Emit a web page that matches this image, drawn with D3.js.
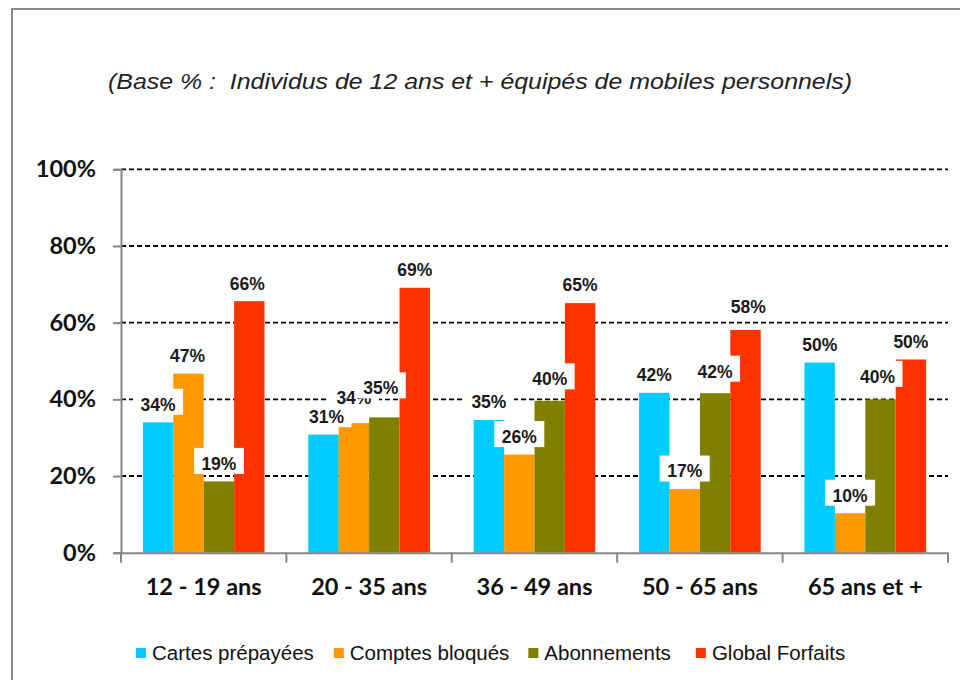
<!DOCTYPE html>
<html>
<head>
<meta charset="utf-8">
<script src="https://cdn.jsdelivr.net/npm/d3@7"></script>
<style>
	body { margin: 0; background: #fff; }
	svg { display: block; }
</style>
</head>
<body>
<svg id="chart" width="960" height="680"></svg>
<script>
const TITLE = "(Base % :  Individus de 12 ans et + équipés de mobiles personnels)";
const CATEGORIES = ["12 - 19 ans", "20 - 35 ans", "36 - 49 ans", "50 - 65 ans", "65 ans et +"];
const SERIES = ["Cartes prépayées", "Comptes bloqués", "Abonnements", "Global Forfaits"];
const CARTES = [34.0, 30.8, 34.6, 41.7, 49.6];
const COMPTES = [46.7, 33.8, 25.6, 16.6, 10.3];
const ABONNEMENTS = [18.6, 35.3, 39.6, 41.6, 40.0];
const FORFAITS = [65.6, 69.1, 65.1, 58.1, 50.4];
const Y_TICKS = [0, 20, 40, 60, 80, 100];

const BAR_COLORS = ["#00CCFF", "#FF9900", "#808000", "#FF3300"];
const AXIS_COLOR = "#868686";
const PLOT = { left: 121, right: 948, top: 169.3, bottom: 552.7 };

// hand placed label offsets (dx, dy) per series / group, like in the original sheet
const LABEL_NUDGE = [
	[[0, 0], [3, 0], [0, 0], [0, 0], [0, 0]],
	[[-1, 0], [0, -7], [0, 0], [0, 0], [0, 0]],
	[[0, 0], [-3.5, -11.5], [0, -4], [0, -4], [-3, -5]],
	[[-2, 0], [0, 0], [0, 0], [2.7, -5.7], [0, 0]]
];

const svg = d3.select("#chart");
const values = [CARTES, COMPTES, ABONNEMENTS, FORFAITS];

const x0 = d3.scaleBand()
	.domain(CATEGORIES)
	.range([PLOT.left, PLOT.right]);

const x1 = d3.scaleBand()
	.domain(SERIES)
	.range([0, x0.bandwidth()])
	.paddingOuter(0.72);

const y = d3.scaleLinear()
	.domain([0, 100])
	.range([PLOT.bottom, PLOT.top]);

// frame around the whole chart
svg.append("rect")
	.attr("x", 12)
	.attr("y", 9)
	.attr("width", 980)
	.attr("height", 700)
	.attr("fill", "none")
	.attr("stroke", "#8a8a8a")
	.attr("stroke-width", 2);

svg.append("text")
	.attr("x", 108)
	.attr("y", 89)
	.attr("textLength", 744)
	.attr("lengthAdjust", "spacingAndGlyphs")
	.style("white-space", "pre")
	.attr("font-family", "'Liberation Sans', Arial, sans-serif")
	.attr("font-style", "italic")
	.attr("font-size", 22)
	.attr("fill", "#222")
	.text(TITLE);

// gridlines
svg.append("g")
	.selectAll("line")
	.data(Y_TICKS.filter((t) => t > 0))
	.enter().append("line")
	.attr("x1", PLOT.left)
	.attr("x2", PLOT.right)
	.attr("y1", (d) => y(d))
	.attr("y2", (d) => y(d))
	.attr("stroke", "#000")
	.attr("stroke-width", 1.8)
	.attr("stroke-dasharray", "5,3");

// bars
const groups = svg.append("g")
	.selectAll("g")
	.data(CATEGORIES)
	.enter().append("g")
	.attr("transform", (d) => "translate(" + x0(d) + ",0)");

groups.selectAll("rect")
	.data((d, gi) => SERIES.map((s, si) => ({ series: s, si: si, value: values[si][gi] })))
	.enter().append("rect")
	.attr("x", (d) => x1(d.series))
	.attr("y", (d) => y(d.value))
	.attr("width", x1.bandwidth())
	.attr("height", (d) => y(0) - y(d.value))
	.attr("fill", (d) => BAR_COLORS[d.si]);

// axes
const yAxis = svg.append("g")
	.attr("transform", "translate(" + PLOT.left + ",0)")
	.call(d3.axisLeft(y).tickValues(Y_TICKS).tickSize(8).tickPadding(17).tickFormat((d) => d + "%"));

const xAxis = svg.append("g")
	.attr("transform", "translate(0," + PLOT.bottom + ")")
	.call(d3.axisBottom(x0).tickSize(0).tickPadding(26));

[yAxis, xAxis].forEach((a) => {
	a.select(".domain").attr("stroke", AXIS_COLOR).attr("stroke-width", 2);
	a.selectAll(".tick line").attr("stroke", AXIS_COLOR).attr("stroke-width", 2);
	a.selectAll("text")
		.attr("font-family", "Lato, 'Open Sans', sans-serif")
		.attr("font-weight", "bold")
		.attr("font-size", 23.5)
		.attr("fill", "#111");
});

// category separators on the x axis
xAxis.append("g")
	.selectAll("line")
	.data(CATEGORIES.map((c) => x0(c)).concat([PLOT.right]))
	.enter().append("line")
	.attr("x1", (d) => d)
	.attr("x2", (d) => d)
	.attr("y1", 0)
	.attr("y2", 10)
	.attr("stroke", AXIS_COLOR)
	.attr("stroke-width", 2);

// data labels, drawn series after series with a white box like Excel does
SERIES.forEach((s, si) => {
	const labels = svg.append("g")
		.selectAll("g")
		.data(values[si])
		.enter().append("g")
		.attr("transform", (d, gi) => {
			const cx = x0(CATEGORIES[gi]) + x1(s) + x1.bandwidth() / 2 + LABEL_NUDGE[si][gi][0];
			const cy = y(d) - 18 + LABEL_NUDGE[si][gi][1];
			return "translate(" + cx + "," + cy + ")";
		});

	labels.append("rect")
		.attr("x", -25)
		.attr("y", -15.5)
		.attr("width", 50)
		.attr("height", 26)
		.attr("fill", "#fff");

	labels.append("text")
		.attr("text-anchor", "middle")
		.attr("dy", "0.36em")
		.attr("font-family", "'Liberation Sans', Arial, sans-serif")
		.attr("font-weight", "bold")
		.attr("font-size", 17.5)
		.attr("fill", "#1a1a1a")
		.text((d) => Math.round(d) + "%");
});

// legend
const legend = svg.append("g")
	.attr("transform", "translate(136,653)");

const LEGEND_GAPS = [20, 19, 25];
let lx = 0;
SERIES.forEach((s, si) => {
	const item = legend.append("g").attr("transform", "translate(" + lx + ",0)");
	item.append("rect")
		.attr("x", 0)
		.attr("y", -5)
		.attr("width", 10)
		.attr("height", 10)
		.attr("fill", BAR_COLORS[si]);
	const t = item.append("text")
		.attr("x", 16)
		.attr("dy", "0.36em")
		.attr("font-family", "'Liberation Sans', Arial, sans-serif")
		.attr("font-size", 20.5)
		.attr("fill", "#111")
		.text(s);
	lx += 16 + t.node().getComputedTextLength() + (LEGEND_GAPS[si] || 0);
});
</script>
</body>
</html>
